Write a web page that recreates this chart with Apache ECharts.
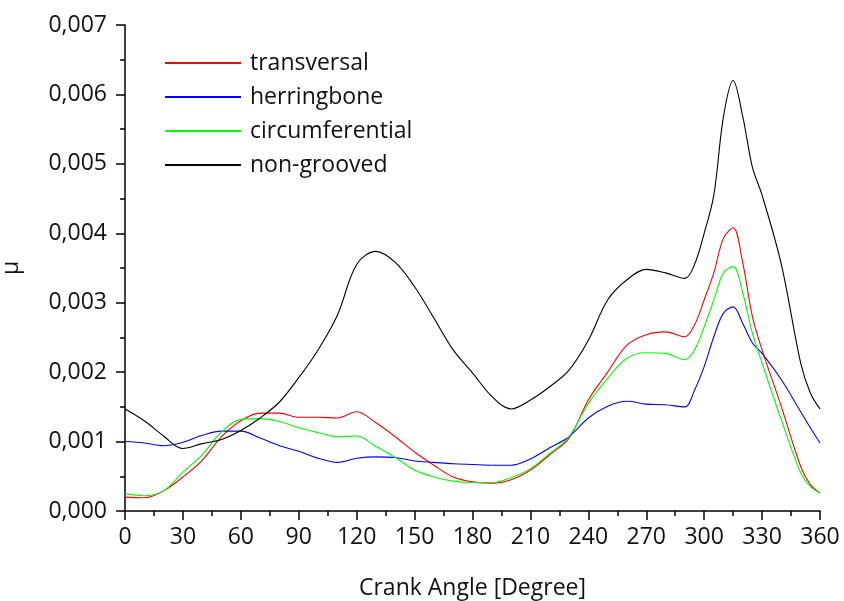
<!DOCTYPE html>
<html>
<head>
<meta charset="utf-8">
<script src="https://cdn.jsdelivr.net/npm/echarts@6/dist/echarts.min.js"></script>
<style>
  html, body { margin: 0; padding: 0; background: #fff; }
  #chart { width: 844px; height: 601px; }
</style>
</head>
<body>
<div id="chart"></div>
<script>
// crank angle samples (degrees)
const angles = [0, 10, 20, 30, 40, 50, 60, 70, 80, 90, 100, 110, 120, 130, 140, 150, 160, 170, 180, 190,
  200, 210, 220, 230, 240, 250, 260, 270, 280, 290, 295, 300, 305, 310, 315, 320, 325, 330, 340, 350, 355, 360];

const transversal = [0.00020, 0.00019, 0.00029, 0.00049, 0.00073, 0.00107, 0.00130, 0.00141, 0.00141, 0.00135,
  0.00135, 0.00134, 0.00143, 0.00127, 0.00107, 0.00085, 0.00066, 0.00049, 0.00042, 0.00040,
  0.00045, 0.00059, 0.00081, 0.00105, 0.00160, 0.00200, 0.00239, 0.00254, 0.00258, 0.00251,
  0.00268, 0.00304, 0.00343, 0.00393, 0.00408, 0.00357, 0.00280, 0.00232, 0.00150, 0.00064, 0.00038, 0.00026];

const herringbone = [0.00100, 0.00098, 0.00094, 0.00099, 0.00109, 0.00115, 0.00115, 0.00105, 0.00094, 0.00086,
  0.00076, 0.00070, 0.00076, 0.00078, 0.00077, 0.00072, 0.00070, 0.00068, 0.00067, 0.00066,
  0.00066, 0.00075, 0.00091, 0.00107, 0.00134, 0.00151, 0.00158, 0.00154, 0.00153, 0.00150,
  0.00174, 0.00208, 0.00251, 0.00285, 0.00294, 0.00270, 0.00242, 0.00227, 0.00189, 0.00143, 0.00120, 0.00098];

const circumferential = [0.00025, 0.00022, 0.00029, 0.00056, 0.00081, 0.00114, 0.00132, 0.00133, 0.00129, 0.00120,
  0.00113, 0.00107, 0.00108, 0.00093, 0.00077, 0.00059, 0.00049, 0.00043, 0.00041, 0.00041,
  0.00048, 0.00061, 0.00083, 0.00107, 0.00155, 0.00191, 0.00220, 0.00228, 0.00227, 0.00218,
  0.00232, 0.00265, 0.00304, 0.00343, 0.00352, 0.00314, 0.00256, 0.00213, 0.00131, 0.00055, 0.00035, 0.00026];

const nonGrooved = [0.00147, 0.00130, 0.00108, 0.00090, 0.00097, 0.00103, 0.00116, 0.00134, 0.00157, 0.00192,
  0.00232, 0.00282, 0.00355, 0.00374, 0.00358, 0.00323, 0.00278, 0.00232, 0.00199, 0.00165,
  0.00147, 0.00160, 0.00179, 0.00203, 0.00246, 0.00304, 0.00333, 0.00348, 0.00343, 0.00335,
  0.00355, 0.00400, 0.00455, 0.00568, 0.00620, 0.00568, 0.00495, 0.00455, 0.00355, 0.00213, 0.00170, 0.00147];

const seriesNames = ['transversal', 'herringbone', 'circumferential', 'non-grooved'];
const seriesColors = ['#ff0000', '#0000ff', '#00ff00', '#000000'];
const seriesValues = [transversal, herringbone, circumferential, nonGrooved];

const FONT = '"Open Sans", sans-serif';
const FS = 23;

const chart = echarts.init(document.getElementById('chart'), null, { renderer: 'canvas' });

const option = {
  animation: false,
  backgroundColor: '#fff',
  grid: { left: 125, right: 24, top: 25, bottom: 90, containLabel: false, outerBoundsMode: 'none' },
  legend: {
    orient: 'vertical',
    left: 165,
    top: 51,
    padding: 0,
    itemWidth: 76,
    itemHeight: 2,
    itemGap: 10,
    icon: 'rect',
    data: seriesNames,
    textStyle: { fontFamily: FONT, fontSize: FS, color: '#111', padding: [0, 0, 0, 4], lineHeight: 24 }
  },
  xAxis: {
    type: 'value',
    min: 0,
    max: 360,
    interval: 30,
    name: 'Crank Angle [Degree]',
    nameLocation: 'middle',
    nameGap: 66,
    nameTextStyle: { fontFamily: FONT, fontSize: FS, color: '#111' },
    axisLine: { lineStyle: { color: '#000', width: 1.5 } },
    axisTick: { inside: false, length: 9, lineStyle: { color: '#000', width: 1.5 } },
    minorTick: { show: true, splitNumber: 2, length: 5, lineStyle: { color: '#000', width: 1.5 } },
    splitLine: { show: false },
    axisLabel: { fontFamily: FONT, fontSize: FS, color: '#111', margin: 15 }
  },
  yAxis: {
    type: 'value',
    min: 0,
    max: 0.007,
    interval: 0.001,
    name: 'μ',
    nameLocation: 'middle',
    nameGap: 102,
    nameTextStyle: { fontFamily: FONT, fontSize: FS, color: '#111' },
    axisLine: { show: true, lineStyle: { color: '#000', width: 1.5 } },
    axisTick: { show: true, inside: false, length: 9, lineStyle: { color: '#000', width: 1.5 } },
    minorTick: { show: true, splitNumber: 2, length: 5, lineStyle: { color: '#000', width: 1.5 } },
    splitLine: { show: false },
    axisLabel: {
      fontFamily: FONT, fontSize: FS, color: '#111', margin: 18,
      formatter: (v) => v.toFixed(3).replace('.', ',')
    }
  },
  series: seriesNames.map((name, i) => ({
    name: name,
    type: 'line',
    smooth: 0.35,
    symbol: 'none',
    color: seriesColors[i],
    lineStyle: { color: seriesColors[i], width: 1.1 },
    data: angles.map((a, k) => [a, seriesValues[i][k]])
  }))
};

chart.setOption(option);
</script>
</body>
</html>
